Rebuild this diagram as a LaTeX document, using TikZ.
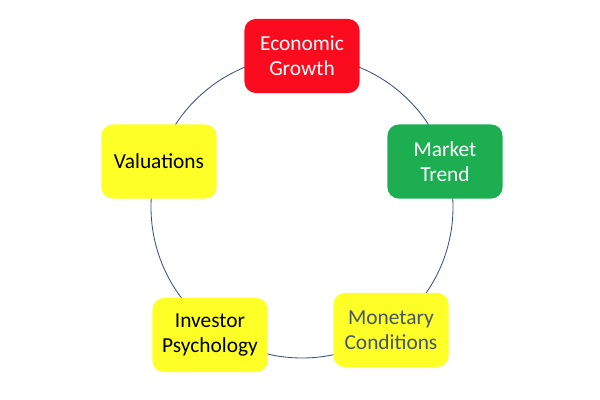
\documentclass[tikz,border=0pt]{standalone}
\usepackage{fontspec}
\setmainfont{Carlito}
\definecolor{boxred}{RGB}{250,12,30}
\definecolor{boxgreen}{RGB}{28,174,80}
\definecolor{boxyellow}{RGB}{255,255,40}
\definecolor{ringblue}{RGB}{55,80,140}
\definecolor{slatetext}{RGB}{68,84,106}

\begin{document}
\begin{tikzpicture}[x=0.025cm, y=0.025cm,
  stage/.style={rounded corners=0.28cm, minimum width=2.875cm, minimum height=1.85cm,
    align=center, font=\fontsize{15.2}{17.8}\selectfont, inner sep=2pt},
  ring/.style={ringblue, line width=0.6pt}]
\useasboundingbox (0,0) rectangle (600,400);
\coordinate (C) at (302,193);
\draw[ring] (C) circle (151);
\node[stage, fill=boxred, text=white] (growth) at (302,344) {Economic\\Growth};
\node[stage, fill=boxgreen, text=white] (trend) at (445,238.5) {Market\\Trend};
\node[stage, fill=boxyellow, text=slatetext] (monetary) at (391,70) {Monetary\\Conditions};
\node[stage, fill=boxyellow, text=black] (psychology) at (210,65) {Investor\\Psychology};
\node[stage, fill=boxyellow, text=black] (valuations) at (159,238.5) {Valuations};
\end{tikzpicture}
\end{document}
